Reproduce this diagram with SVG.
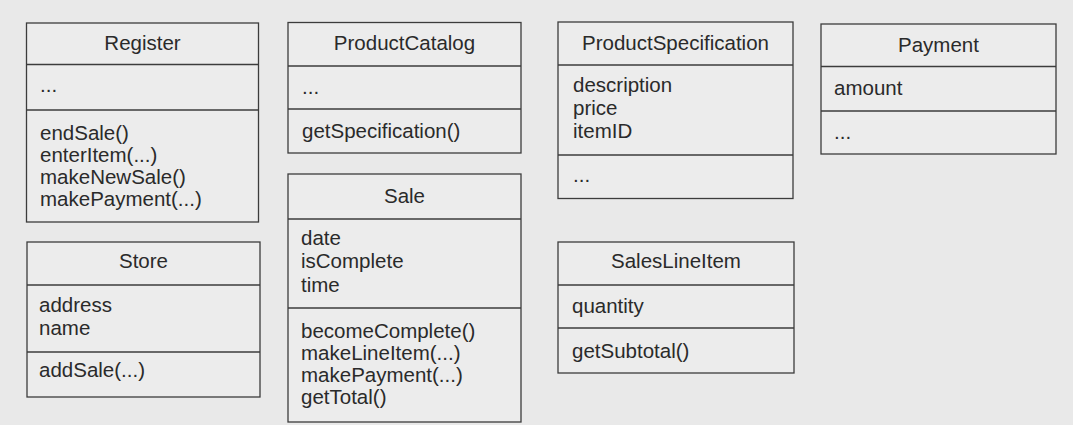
<svg xmlns="http://www.w3.org/2000/svg" width="1073" height="425" viewBox="0 0 1073 425">
<style>
.bg{fill:#e9e9e9}
.box{fill:#ececec;stroke:#3c3c3c;stroke-width:1.3}
.sep{stroke:#3c3c3c;stroke-width:1.3}
text{font-family:"Liberation Sans",Arial,sans-serif;font-size:20.5px;fill:#2a2a2a}
.name{text-anchor:middle}
</style>
<rect class="bg" x="0" y="0" width="1073" height="425"/>
<g id="Register">
<rect class="box" x="26.5" y="23" width="232" height="199"/>
<line class="sep" x1="26.5" y1="64.5" x2="258.5" y2="64.5"/>
<line class="sep" x1="26.5" y1="110" x2="258.5" y2="110"/>
<text class="name" x="142.5" y="50">Register</text>
<text x="40" y="92">...</text>
<text x="40" y="140">endSale()</text>
<text x="40" y="162">enterItem(...)</text>
<text x="40" y="184">makeNewSale()</text>
<text x="40" y="206">makePayment(...)</text>
</g>
<g id="ProductCatalog">
<rect class="box" x="288" y="22.5" width="233" height="130.5"/>
<line class="sep" x1="288" y1="66" x2="521" y2="66"/>
<line class="sep" x1="288" y1="109" x2="521" y2="109"/>
<text class="name" x="404.5" y="50">ProductCatalog</text>
<text x="302" y="94">...</text>
<text x="302" y="138">getSpecification()</text>
</g>
<g id="ProductSpecification">
<rect class="box" x="558" y="22" width="235" height="176.5"/>
<line class="sep" x1="558" y1="65" x2="793" y2="65"/>
<line class="sep" x1="558" y1="155" x2="793" y2="155"/>
<text class="name" x="675.5" y="50">ProductSpecification</text>
<text x="573" y="92">description</text>
<text x="573" y="115">price</text>
<text x="573" y="138">itemID</text>
<text x="573" y="182">...</text>
</g>
<g id="Payment">
<rect class="box" x="821" y="24" width="235" height="130"/>
<line class="sep" x1="821" y1="66.5" x2="1056" y2="66.5"/>
<line class="sep" x1="821" y1="111" x2="1056" y2="111"/>
<text class="name" x="938.5" y="52">Payment</text>
<text x="834" y="95">amount</text>
<text x="834" y="139">...</text>
</g>
<g id="Sale">
<rect class="box" x="288" y="174" width="233" height="248"/>
<line class="sep" x1="288" y1="219" x2="521" y2="219"/>
<line class="sep" x1="288" y1="308" x2="521" y2="308"/>
<text class="name" x="404.5" y="203">Sale</text>
<text x="301" y="245">date</text>
<text x="301" y="268">isComplete</text>
<text x="301" y="292">time</text>
<text x="301" y="338">becomeComplete()</text>
<text x="301" y="360">makeLineItem(...)</text>
<text x="301" y="382">makePayment(...)</text>
<text x="301" y="404">getTotal()</text>
</g>
<g id="Store">
<rect class="box" x="27" y="242" width="233" height="155"/>
<line class="sep" x1="27" y1="285" x2="260" y2="285"/>
<line class="sep" x1="27" y1="352" x2="260" y2="352"/>
<text class="name" x="143.5" y="268">Store</text>
<text x="39" y="312">address</text>
<text x="39" y="335">name</text>
<text x="39" y="377">addSale(...)</text>
</g>
<g id="SalesLineItem">
<rect class="box" x="558" y="242" width="236" height="131"/>
<line class="sep" x1="558" y1="285" x2="794" y2="285"/>
<line class="sep" x1="558" y1="328" x2="794" y2="328"/>
<text class="name" x="676" y="268">SalesLineItem</text>
<text x="572" y="313">quantity</text>
<text x="572" y="358">getSubtotal()</text>
</g>
<g id="connectors"/>
</svg>
